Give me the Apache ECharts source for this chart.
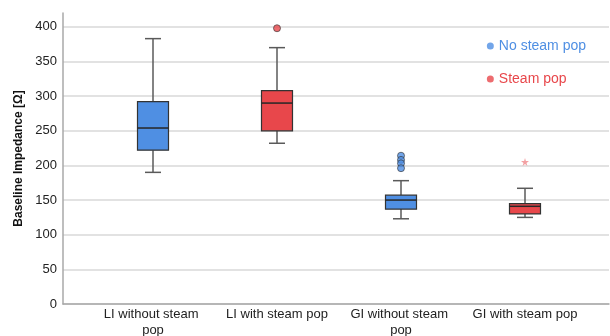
<!DOCTYPE html>
<html><head><meta charset="utf-8">
<script src="https://cdn.jsdelivr.net/npm/echarts@6/dist/echarts.min.js"></script>
<style>html,body{margin:0;padding:0;background:#fff}#c{width:610px;height:336px}</style>
</head><body><div id="c"></div>
<script>
const categories = ['LI without steam pop', 'LI with steam pop', 'GI without steam pop', 'GI with steam pop'];
// [lower whisker, Q1, median, Q3, upper whisker]
const boxStats = [
  [190, 222, 254, 292, 383],
  [232, 250, 290, 308, 370],
  [123, 137, 150, 157, 178],
  [125, 130, 141, 145, 167]
];
const groupOf = [0, 1, 0, 1]; // 0 = No steam pop, 1 = Steam pop
const circleOutliers = [[1, 398], [2, 214], [2, 208], [2, 203], [2, 196]];
const starOutliers = [[3, 205]];
const legendNames = ['No steam pop', 'Steam pop'];
const yTicks = [0, 50, 100, 150, 200, 250, 300, 350, 400];

const colors = ['#4f8fe3', '#e8474b'];
const gridTop = 13, gridBottom = 32;

const chart = echarts.init(document.getElementById('c'));
chart.setOption({
  animation: false,
  textStyle: { fontFamily: 'Liberation Sans, Arial, sans-serif' },
  grid: [
    { left: 63, right: 1, top: gridTop, bottom: gridBottom, containLabel: false, outerBoundsMode: 'none' },
    { left: 91, right: 23, top: gridTop, bottom: gridBottom, containLabel: false, outerBoundsMode: 'none' }
  ],
  xAxis: [
    { gridIndex: 0, type: 'value', min: 0, max: 1,
      axisLine: { show: true, onZero: false, lineStyle: { color: '#a8a8a8', width: 1.5 } },
      axisTick: { show: false }, axisLabel: { show: false }, splitLine: { show: false } },
    { gridIndex: 1, type: 'category', data: categories,
      axisLine: { show: false }, axisTick: { show: false }, splitLine: { show: false },
      axisLabel: { color: '#222', fontSize: 13, margin: 2, lineHeight: 16, width: 112, overflow: 'break', interval: 0 } }
  ],
  yAxis: [
    { gridIndex: 0, type: 'value', min: 0, max: 420, interval: 50,
      name: 'Baseline Impedance [Ω]', nameLocation: 'middle', nameGap: 38,
      nameTextStyle: { fontWeight: 'bold', fontSize: 12, color: '#111' },
      axisLine: { show: true, lineStyle: { color: '#a8a8a8', width: 1.5 } },
      axisTick: { show: false },
      axisLabel: { color: '#222', fontSize: 13, margin: 6, showMaxLabel: false,
        formatter: v => yTicks.indexOf(v) >= 0 ? String(v) : '' },
      splitLine: { show: true, showMaxLine: false, lineStyle: { color: '#d9d9d9', width: 1.5 } } },
    { gridIndex: 1, type: 'value', min: 0, max: 420, show: false, splitLine: { show: false } }
  ],
  legend: {
    orient: 'vertical', right: 19, top: 34, itemGap: 19, itemWidth: 7, itemHeight: 7,
    data: legendNames.map((n, i) => ({ name: n, icon: 'circle', textStyle: { color: colors[i] } })),
    textStyle: { fontSize: 14 }
  },
  series: [
    {
      type: 'custom', name: 'boxes', xAxisIndex: 1, yAxisIndex: 1,
      data: boxStats.map((s, i) => [i].concat(s)),
      renderItem: function (params, api) {
        const i = api.value(0);
        const x = api.coord([i, 0])[0];
        const yMin = api.coord([i, api.value(1)])[1];
        const yQ1 = api.coord([i, api.value(2)])[1];
        const yMed = api.coord([i, api.value(3)])[1];
        const yQ3 = api.coord([i, api.value(4)])[1];
        const yMax = api.coord([i, api.value(5)])[1];
        const bw = 31, cw = 16;
        const wl = { stroke: '#5a5a5a', lineWidth: 1.5 };
        return { type: 'group', children: [
          { type: 'line', shape: { x1: x, y1: yQ3, x2: x, y2: yMax }, style: wl },
          { type: 'line', shape: { x1: x, y1: yQ1, x2: x, y2: yMin }, style: wl },
          { type: 'line', shape: { x1: x - cw / 2, y1: yMax, x2: x + cw / 2, y2: yMax }, style: wl },
          { type: 'line', shape: { x1: x - cw / 2, y1: yMin, x2: x + cw / 2, y2: yMin }, style: wl },
          { type: 'rect', shape: { x: x - bw / 2, y: yQ3, width: bw, height: yQ1 - yQ3 },
            style: { fill: colors[groupOf[i]], stroke: '#333', lineWidth: 1.2 } },
          { type: 'line', shape: { x1: x - bw / 2, y1: yMed, x2: x + bw / 2, y2: yMed },
            style: { stroke: '#262626', lineWidth: 1.5 } }
        ] };
      },
      z: 3
    },
    { type: 'scatter', name: legendNames[0], xAxisIndex: 1, yAxisIndex: 1, data: [], itemStyle: { color: colors[0] } },
    { type: 'scatter', name: legendNames[1], xAxisIndex: 1, yAxisIndex: 1, data: [], itemStyle: { color: colors[1] } },
    {
      type: 'scatter', name: 'outliers', xAxisIndex: 1, yAxisIndex: 1, symbol: 'circle', symbolSize: 7,
      data: circleOutliers.map(d => ({ value: d, itemStyle: { color: colors[groupOf[d[0]]], borderColor: '#333', borderWidth: 0.8 } })),
      z: 4
    },
    {
      type: 'scatter', name: 'extremes', xAxisIndex: 1, yAxisIndex: 1, symbol: 'path://M50,0 L61,35 L98,35 L68,57 L79,91 L50,70 L21,91 L32,57 L2,35 L39,35 Z', symbolSize: 8,
      data: starOutliers, itemStyle: { color: '#f08a8c' }, z: 4
    }
  ]
});
</script></body></html>
